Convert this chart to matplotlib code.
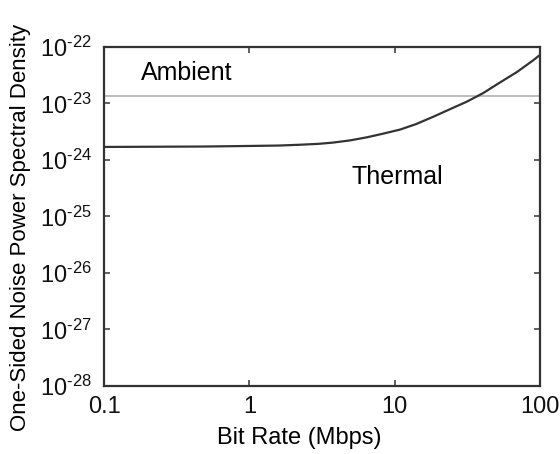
import matplotlib

matplotlib.use("Agg")
import matplotlib.pyplot as plt
from matplotlib.ticker import LogLocator, NullLocator, FixedLocator, FuncFormatter
import numpy as np

plt.rcParams["font.family"] = ["Liberation Sans", "DejaVu Sans"]
plt.rcParams["mathtext.fontset"] = "custom"
plt.rcParams["mathtext.rm"] = "Liberation Sans"
plt.rcParams["mathtext.it"] = "Liberation Sans"
plt.rcParams["mathtext.default"] = "regular"

# Thermal noise PSD vs bit rate
bit_rate = [0.1, 0.5, 1.01, 1.6, 2.23, 3.0, 3.77, 4.93, 6.46, 8.32, 10.9,
            14.0, 18.4, 24.0, 31.5, 40.6, 53.1, 69.5, 89.5, 100.0]
thermal = [1.70e-24, 1.73e-24, 1.77e-24, 1.80e-24, 1.86e-24, 1.93e-24,
           2.03e-24, 2.22e-24, 2.52e-24, 2.92e-24, 3.45e-24, 4.30e-24,
           5.80e-24, 7.90e-24, 1.08e-23, 1.52e-23, 2.35e-23, 3.60e-23,
           5.75e-23, 7.2e-23]
ambient_level = 1.35e-23


def exp_label(val, pos):
    e = int(round(np.log10(val)))
    return r"$10^{\text{%s}}$" % ("-" + str(-e) if e < 0 else str(e))


fig = plt.figure(figsize=(5.6, 4.54), dpi=100)
ax = fig.add_axes([0.186, 0.150, 0.778, 0.7465])

ax.axhline(ambient_level, color="#b0b0b0", lw=1.2, zorder=1)
ax.plot(bit_rate, thermal, color="#333333", lw=1.6, zorder=2)

ax.set_xscale("log")
ax.set_yscale("log")
ax.set_xlim(0.1, 100)
ax.set_ylim(1e-28, 1e-22)

ax.xaxis.set_major_locator(FixedLocator([0.1, 1, 10, 100]))
ax.set_xticklabels(["0.1", "1", "10", "100"])
ax.yaxis.set_major_locator(LogLocator(base=10, numticks=10))
ax.yaxis.set_major_formatter(FuncFormatter(exp_label))
ax.xaxis.set_minor_locator(NullLocator())
ax.yaxis.set_minor_locator(NullLocator())

ax.tick_params(direction="in", length=4, width=1.2, color="#444444",
               labelsize=17, labelcolor="#111111", top=True, right=True)
ax.tick_params(axis="y", pad=9)
ax.tick_params(axis="x", pad=7)
for side in ax.spines.values():
    side.set_color("#333333")
    side.set_linewidth(1.6)

ax.text(0.18, 10 ** -22.46, "Ambient", fontsize=18, va="center", ha="left")
ax.text(10.5, 10 ** -24.3, "Thermal", fontsize=18, va="center", ha="center")

ax.set_xlabel("Bit Rate (Mbps)", fontsize=17)
ax.set_ylabel("One-Sided Noise Power Spectral Density", fontsize=16)
ax.xaxis.set_label_coords(0.447, -0.12)
ax.yaxis.set_label_coords(-0.168, 0.469)

fig.savefig("out.png", dpi=100)
